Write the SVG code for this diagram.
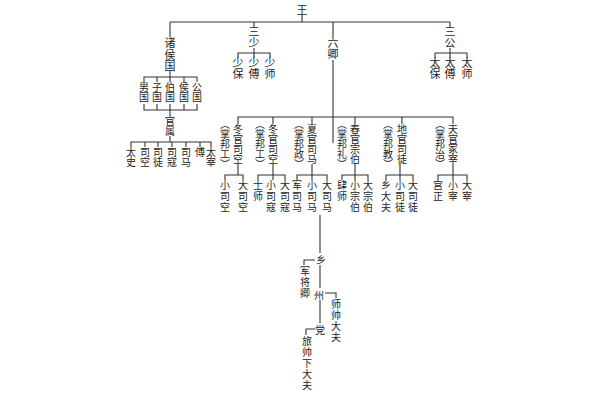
<svg xmlns="http://www.w3.org/2000/svg" width="600" height="400" viewBox="0 0 600 400">
<style>
text{font-family:"Noto Sans CJK SC","Noto Sans CJK TC",sans-serif;fill:#222;font-size:10px}
.v{writing-mode:vertical-rl;text-anchor:start}
.b{font-size:11px}
.s1{letter-spacing:1px}
.h{text-anchor:middle;dominant-baseline:central}
#connectors path{stroke:#333;stroke-width:1.1;fill:none}
</style>
<rect width="600" height="400" fill="#fff"/>
<g id="connectors">
<path d="M302 15V22M170 22H450M170 22V37M254 22V27M333 22V37M450 22V27"/>
<path d="M170 71V77M144 82V77H197V82M157 77V82M184 77V82M170 77V82"/>
<path d="M144 104V110H197V104M157 104V110M170 104V116M184 104V110"/>
<path d="M170 136V142M131 147V142H211V147M145 142V147M158 142V147M172 142V147M186 142V147M200 142V147"/>
<path d="M254 48V53M238 58V53H270V58M254 53V58"/>
<path d="M450 48V53M435 58V53H467V58M450 53V58"/>
<path d="M333 60V143"/>
<path d="M238 124V117H453V124M273 117V124M312 117V124M355 117V124M402 117V124"/>
<path d="M238 164V175M225 180V175H243V180"/>
<path d="M273 164V180M258 180V175H285V180"/>
<path d="M312 164V180M297 180V175H327V180"/>
<path d="M355 164V180M342 180V175H368V180"/>
<path d="M400 164V180M386 180V175H413V180"/>
<path d="M453 164V180M438 180V175H467V180"/>
<path d="M320 215V253M320 265V288M320 300V323"/>
<path d="M315 260H304V265M325 293H336V298M315 329H306V335"/>
</g>
<g id="wang"><text class="h b" x="302" y="9">王</text></g>
<g id="zhuhouguo"><text class="v b" x="170" y="37.5" style="letter-spacing:0.5px">诸侯国</text></g>
<g id="nanguo"><text class="v" x="144" y="82">男国</text></g>
<g id="ziguo"><text class="v" x="157" y="82">子国</text></g>
<g id="boguo"><text class="v" x="170" y="82">伯国</text></g>
<g id="houguo"><text class="v" x="184" y="82">侯国</text></g>
<g id="gongguo"><text class="v" x="197" y="82">公国</text></g>
<g id="guanshu"><text class="v" x="170" y="116">官属</text></g>
<g id="taishi"><text class="v" x="131" y="147">太史</text></g>
<g id="sikong0"><text class="v" x="145" y="147">司空</text></g>
<g id="situ0"><text class="v" x="158" y="147">司徒</text></g>
<g id="sikou0"><text class="v" x="172" y="147">司寇</text></g>
<g id="sima0"><text class="v" x="186" y="147">司马</text></g>
<g id="fu0"><text class="v" x="200" y="147">傅</text></g>
<g id="taizai0"><text class="v" x="211" y="147">太宰</text></g>
<g id="sanshao"><text class="v b" x="254" y="26.5">三少</text></g>
<g id="shaobao"><text class="v b" x="238" y="57">少保</text></g>
<g id="shaofu"><text class="v b" x="254" y="57">少傅</text></g>
<g id="shaoshi"><text class="v b" x="270" y="57">少师</text></g>
<g id="sangong"><text class="v b" x="450" y="26.5">三公</text></g>
<g id="taibao"><text class="v b" x="435" y="57">太保</text></g>
<g id="taifu"><text class="v b" x="450" y="57">太傅</text></g>
<g id="taishi2"><text class="v b" x="467" y="57">太师</text></g>
<g id="liuqing"><text class="v b" x="333" y="37.5">六卿</text></g>
<g id="dong1"><text class="v" x="238" y="124">冬官司空</text><text class="v" x="225" y="119">（掌邦工）</text></g>
<g id="dong2"><text class="v" x="273" y="124">冬官司空</text><text class="v" x="260" y="119">（掌邦工）</text></g>
<g id="xia"><text class="v" x="312" y="124">夏官司马</text><text class="v" x="299" y="119">（掌邦政）</text></g>
<g id="chun"><text class="v" x="355" y="124">春官宗伯</text><text class="v" x="342" y="119">（掌邦礼）</text></g>
<g id="di"><text class="v" x="402" y="124">地官司徒</text><text class="v" x="388" y="119">（掌邦教）</text></g>
<g id="tian"><text class="v" x="453" y="124">天官冢宰</text><text class="v" x="440" y="119">（掌邦治）</text></g>
<g id="xiaosikong"><text class="v s1" x="225" y="180">小司空</text></g>
<g id="dasikong"><text class="v s1" x="243" y="180">大司空</text></g>
<g id="shishi"><text class="v s1" x="258" y="180">士师</text></g>
<g id="xiaosikou"><text class="v s1" x="271" y="180">小司寇</text></g>
<g id="dasikou"><text class="v s1" x="285" y="180">大司寇</text></g>
<g id="junsima"><text class="v s1" x="297" y="180">军司马</text></g>
<g id="xiaosima"><text class="v s1" x="312" y="180">小司马</text></g>
<g id="dasima"><text class="v s1" x="327" y="180">大司马</text></g>
<g id="sishi"><text class="v s1" x="342" y="180">肆师</text></g>
<g id="xiaozongbo"><text class="v s1" x="355" y="180">小宗伯</text></g>
<g id="dazongbo"><text class="v s1" x="368" y="180">大宗伯</text></g>
<g id="xiangdafu"><text class="v s1" x="386" y="180">乡大夫</text></g>
<g id="xiaositu"><text class="v s1" x="400" y="180">小司徒</text></g>
<g id="dasitu"><text class="v s1" x="413" y="180">大司徒</text></g>
<g id="gongzheng"><text class="v s1" x="438" y="180">宫正</text></g>
<g id="xiaozai"><text class="v s1" x="453" y="180">小宰</text></g>
<g id="dazai"><text class="v s1" x="467" y="180">大宰</text></g>
<g id="xiang"><text class="h" x="321" y="259">乡</text></g>
<g id="zhou"><text class="h" x="319" y="294">州</text></g>
<g id="dang"><text class="h" x="320" y="329">党</text></g>
<g id="junjiangqing"><text class="v s1" x="305" y="266">军将卿</text></g>
<g id="shishuaidafu"><text class="v s1" x="336" y="299">师帅大夫</text></g>
<g id="lvshuai"><text class="v s1" x="307" y="336">旅帅下大夫</text></g>
</svg>
